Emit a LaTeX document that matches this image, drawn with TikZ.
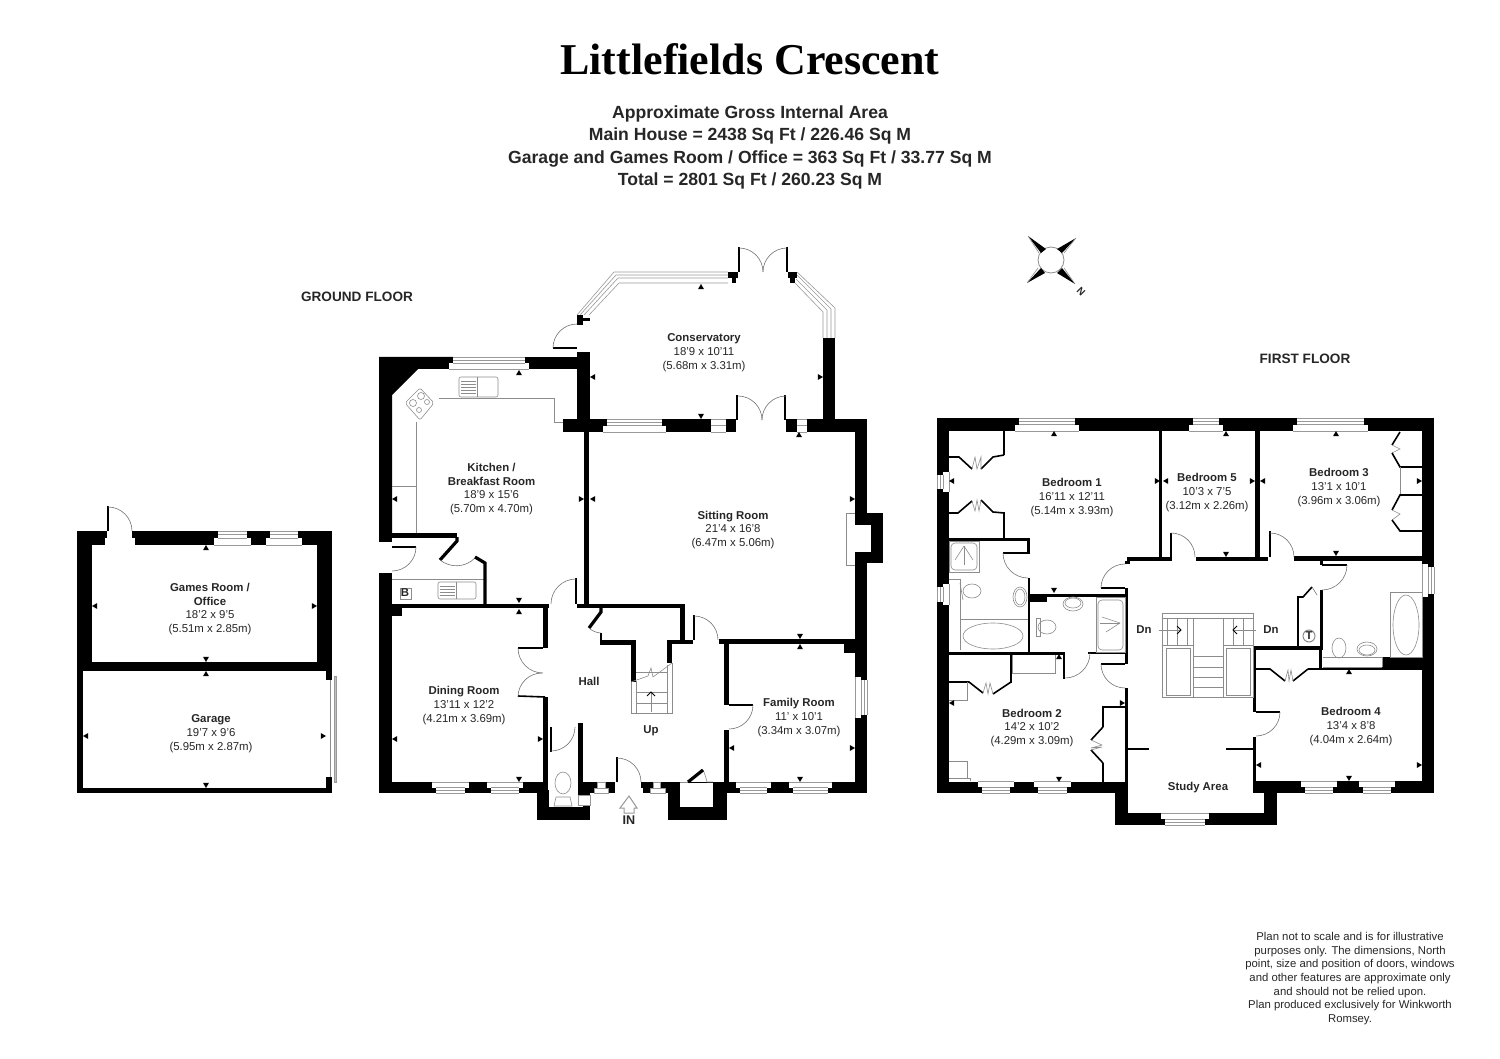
\documentclass[tikz,border=0pt]{standalone}
\usepackage{fontspec}
\setmainfont{Liberation Sans}
\newfontfamily\titlefont{Liberation Serif}
\tikzset{
    wall/.style={fill=black},
    partition/.style={draw=black,line width=1.6pt},
    leaf/.style={draw=black,line width=.8pt},
    fit/.style={draw=black!45,line width=.3pt},
    swing/.style={draw=black!55,line width=.3pt},
    glass/.style={draw=black!40,line width=.3pt},
    room/.style={font=\fontsize{5.7}{6.9}\selectfont,align=center,text=black!85,yshift=-.75pt},
    tag/.style={font=\fontsize{5.7}{6.9}\selectfont\bfseries,text=black!85},
    heading/.style={font=\fontsize{6.8}{7.5}\selectfont\bfseries,text=black!85}
}
\begin{document}
\begin{tikzpicture}[x=.5pt,y=-.5pt]
        \useasboundingbox (0,0) rectangle (1500,1059);
        \node[font=\fontsize{22}{24}\titlefont\bfseries] (title) at (750,59.5) {Littlefields Crescent};
        \node[font=\fontsize{8.8}{11.3}\selectfont\bfseries,align=center,text=black!85] (areas) at (750,147.5) {Approximate Gross Internal Area\\Main House = 2438 Sq Ft / 226.46 Sq M\\Garage and Games Room / Office = 363 Sq Ft / 33.77 Sq M\\Total = 2801 Sq Ft / 260.23 Sq M};
        \node[heading] (groundfloor) at (357,297) {GROUND FLOOR};
        \node[heading] (firstfloor) at (1305,359) {FIRST FLOOR};
        \node[font=\fontsize{5.67}{6.85}\selectfont,align=center,text=black!85] (disclaimer) at (1350,978.5) {Plan not to scale and is for illustrative\\purposes only. The dimensions, North\\point, size and position of doors, windows\\and other features are approximate only\\and should not be relied upon.\\Plan produced exclusively for Winkworth\\Romsey.};

        % compass
        \draw[fit,line width=.4pt] (1051,260) circle[radius=13];
        \fill[wall] (1028,236) -- (1046,249) -- (1041,253) -- cycle;
        \fill[wall] (1076,238) -- (1057,249) -- (1062,253) -- cycle;
        \fill[wall] (1027,283) -- (1041,268) -- (1045,273) -- cycle;
        \fill[wall] (1075,284) -- (1057,273) -- (1062,268) -- cycle;
        \draw[fit] (1028,236) -- (1039,253);
        \draw[fit] (1076,238) -- (1064,253);
        \draw[fit] (1027,283) -- (1038,268);
        \draw[fit] (1075,284) -- (1064,268);
        \node[tag,rotate=-45,font=\fontsize{5}{5}\selectfont\bfseries] (north) at (1081,292) {N};

        % garage and games room
        \fill[wall] (77,531) rectangle (332,545);
        \fill[wall] (77,531) rectangle (83,793);
        \fill[wall] (77,531) rectangle (92,671);
        \fill[wall] (317,531) rectangle (332,671);
        \fill[wall] (77,662) rectangle (332,671);
        \fill[wall] (326,671) rectangle (332,680);
        \fill[wall] (326,777) rectangle (332,793);
        \fill[wall] (77,788) rectangle (332,793);
        \fill[white] (107,531) rectangle (132,538);
        \fill[white] (105,538) rectangle (135,546);
        \draw[leaf] (108,506) -- (108,531);
        \draw[swing] (108,507) arc[start angle=-90,end angle=0,radius=24];
        \draw[fit] (330,680) -- (330,777);
        \draw[glass,fill=black!25] (334,676) rectangle (336,782);

        % kitchen and conservatory walls
        \fill[wall] (379,357) -- (453,357) -- (453,363) -- (449,363) -- (449,369) -- (418,369) -- (392,395) -- (392,537) -- (379,537) -- cycle;
        \fill[wall] (449,357) rectangle (577,369);
        \fill[wall] (392,533) rectangle (457,538);
        \fill[wall] (379,537) rectangle (392,542);
        \fill[wall] (379,573) rectangle (392,793);
        \fill[wall] (577,352) rectangle (590,422);
        \fill[wall] (563,419) rectangle (738,432);
        \fill[wall] (584,432) rectangle (589,604);
        \fill[white] (736,418) rectangle (786,433);
        \fill[wall] (786,419) rectangle (867,432);
        \fill[wall] (823,338) rectangle (835,420);
        \fill[wall] (855,432) rectangle (867,525);
        \fill[wall] (855,552) rectangle (867,793);
        \fill[wall] (855,513) rectangle (883,525);
        \fill[wall] (871,525) rectangle (883,563);
        \fill[wall] (855,552) rectangle (883,563);
        \draw[fit] (855,513) -- (846,513) -- (846,565) -- (855,565);
        \draw[leaf] (737,395) -- (737,420);
        \draw[leaf] (785,395) -- (785,420);
        \draw[swing] (738,396) arc[start angle=-90,end angle=0,radius=24];
        \draw[swing] (786,396) arc[start angle=-90,end angle=-180,radius=24];
        \fill[wall] (577,315) rectangle (583,325);
        \fill[wall] (583,318) rectangle (590,321);
        \draw[leaf] (553,348) -- (577,348);
        \draw[swing] (577,324) arc[start angle=-90,end angle=-180,radius=24];
        \fill[wall] (728,272) rectangle (738,278);
        \fill[wall] (732,278) rectangle (736,283);
        \fill[wall] (788,272) rectangle (797,278);
        \fill[wall] (790,278) rectangle (795,283);
        \draw[leaf] (739,247) -- (739,272);
        \draw[leaf] (787,247) -- (787,272);
        \draw[swing] (739,248) arc[start angle=-90,end angle=0,radius=24];
        \draw[swing] (787,248) arc[start angle=-90,end angle=-180,radius=24];
        \draw[glass] (577,315) -- (614,272) -- (728,272);
        \draw[glass] (580,315) -- (616,275) -- (728,275);
        \draw[glass] (584,315) -- (618,278) -- (728,278);
        \draw[glass] (589,315) -- (619,283) -- (728,283);
        \draw[glass] (797,272) -- (835,308) -- (835,338);
        \draw[glass] (797,275) -- (831,309) -- (831,338);
        \draw[glass] (796,279) -- (827,310) -- (827,338);
        \draw[glass] (795,283) -- (823,312) -- (823,338);

        % kitchen fittings
        \draw[fit] (439,398) -- (554,398) -- (554,422) -- (563,422);
        \draw[fit] (416,422) -- (416,533);
        \draw[fit] (392,486) -- (416,486);
        \draw[fit,rounded corners=1pt] (405,403) -- (420,388) -- (434,403) -- (420,420) -- cycle;
        \draw[fit] (413,403) circle[radius=3.5];
        \draw[fit] (421,396) circle[radius=3.5];
        \draw[fit] (427,402) circle[radius=2.5];
        \draw[fit] (419,410) circle[radius=2.5];
        \draw[fit,rounded corners=1pt] (459,377) rectangle (498,397);
        \draw[fit] (477,377) -- (477,397);
        \foreach \y in {381,384,387,390,393} \draw[fit] (461,\y) -- (476,\y);
        \draw[fit] (392,579) -- (485,579);
        \draw[fit,line width=.5pt] (400,588) rectangle (411,599);
        \draw[fit,rounded corners=1pt] (438,582) rectangle (476,599);
        \draw[fit] (456,582) -- (456,599);
        \foreach \y in {586,589,592,595} \draw[fit] (440,\y) -- (455,\y);
        \draw[leaf] (392,547) -- (416,547);
        \draw[swing] (416,547) arc[start angle=0,end angle=90,radius=24];
        \draw[partition] (457,537) -- (457,541) -- (440,560);
        \draw[swing] (440,560) .. controls (450,568) and (465,568) .. (475,558);
        \draw[partition] (475,557) -- (485,563) -- (485,604);

        % dining room and hall walls
        \fill[wall] (392,604) rectangle (549,608);
        \fill[wall] (392,608) rectangle (402,616);
        \fill[wall] (543,608) rectangle (548,648);
        \fill[wall] (543,697) rectangle (548,794);
        \fill[wall] (379,782) rectangle (543,793);
        \draw[leaf] (518,648) -- (543,648);
        \draw[leaf] (518,696) -- (545,697);
        \draw[swing] (518,648) arc[start angle=180,end angle=90,radius=25];
        \draw[swing] (518,697) arc[start angle=180,end angle=270,radius=24];
        \fill[wall] (537,790) rectangle (549,820);
        \fill[wall] (537,807) rectangle (590,820);
        \fill[wall] (578,723) rectangle (583,795);
        \fill[wall] (583,782) rectangle (615,793);
        \fill[wall] (583,793) rectangle (590,820);
        \draw[glass,fill=white] (578,795) rectangle (590,805);
        \draw[leaf] (551,727) -- (551,752);
        \draw[swing] (551,751) arc[start angle=90,end angle=0,radius=24];
        \draw[fit] (563,783) ellipse[x radius=8,y radius=11];
        \draw[fit] (554,806) -- (572,806) -- (570,797) -- (556,797) -- cycle;
        \fill[wall] (577,604) rectangle (684,608);
        \fill[wall] (680,604) rectangle (685,644);
        \fill[wall] (672,640) rectangle (693,644);
        \fill[wall] (600,640) rectangle (636,645);
        \fill[wall] (631,640) rectangle (636,682);
        \fill[wall] (667,640) rectangle (672,663);
        \draw[leaf] (601,640) -- (601,633);
        \draw[partition] (601,608) -- (601,612) -- (589,628);
        \draw[swing] (589,628) .. controls (592,631) and (597,633) .. (601,633);
        \draw[leaf] (576,578) -- (576,604);
        \draw[swing] (576,579) arc[start angle=-90,end angle=-180,radius=25];
        \draw[leaf] (694,615) -- (694,640);
        \draw[swing] (694,616) arc[start angle=-90,end angle=0,radius=24];

        % stairs up
        \draw[fit] (631,682) -- (631,713) -- (672,713) -- (672,663);
        \draw[fit] (631,682) -- (648,676) -- (651,668) -- (653,677) -- (672,663);
        \draw[fit] (636,681) -- (636,713);
        \draw[fit] (667,665) -- (667,713);
        \foreach \y in {672,692,703} \draw[fit] (636,\y) -- (667,\y);
        \node[inner sep=0pt] (upfoot) at (651,713) {};
        \coordinate (uptip) at (651,692);
        \draw[fit,line width=.4pt] (upfoot) -- (uptip);
        \draw[leaf,line width=.4pt] (647,696) -- (uptip) -- (655,696);

        % front of house
        \draw[leaf] (617,757) -- (617,782);
        \draw[swing] (617,758) arc[start angle=-90,end angle=0,radius=24];
        \fill[wall] (641,782) rectangle (653,788);
        \fill[wall] (643,788) rectangle (650,793);
        \fill[wall] (660,782) rectangle (727,793);
        \fill[wall] (668,793) rectangle (727,820);
        \fill[white] (680,783) rectangle (713,807);
        \draw[fit] (680,782) -- (688,782);
        \draw[fit] (703,770) .. controls (705,774) and (706,778) .. (707,782) -- (713,782);
        \draw[partition] (688,782) -- (703,770);
        \fill[wall] (713,782) rectangle (740,793);
        \draw[glass,fill=white] (650,788) rectangle (665,793);
        \draw[glass,fill=white] (653,782) rectangle (660,788);
        \draw[glass,fill=white] (594,788) rectangle (608,793);
        \draw[glass,fill=white] (597,782) rectangle (605,788);

        % family room walls
        \fill[wall] (719,639) rectangle (855,644);
        \fill[wall] (724,644) rectangle (729,705);
        \fill[wall] (724,730) rectangle (729,782);
        \fill[wall] (844,644) rectangle (855,653);
        \fill[wall] (729,782) rectangle (867,793);
        \draw[leaf] (729,705) -- (753,705);
        \draw[swing] (753,705) arc[start angle=0,end angle=90,radius=24];

        % first floor shell
        \fill[wall] (937,418) rectangle (1434,431);
        \fill[wall] (937,418) rectangle (949,793);
        \fill[wall] (1422,418) rectangle (1434,793);
        \fill[wall] (937,782) rectangle (1128,793);
        \fill[wall] (1253,781) rectangle (1434,793);
        \fill[wall] (1115,793) rectangle (1128,825);
        \fill[wall] (1264,793) rectangle (1277,825);
        \fill[wall] (1115,813) rectangle (1277,825);

        % first floor partitions
        \fill[wall] (1159,431) rectangle (1162,557);
        \fill[wall] (1127,557) rectangle (1172,561);
        \fill[wall] (1125,561) rectangle (1130,564);
        \fill[wall] (1196,557) rectangle (1268,561);
        \fill[wall] (1255,431) rectangle (1260,557);
        \fill[wall] (1294,556) rectangle (1422,561);
        \fill[wall] (1320,561) rectangle (1323,565);
        \fill[wall] (1320,590) rectangle (1323,648);
        \fill[wall] (1297,597) rectangle (1299,647);
        \fill[wall] (1253,646) rectangle (1323,650);
        \fill[wall] (1253,650) rectangle (1256,712);
        \fill[wall] (1253,737) rectangle (1256,782);
        \fill[wall] (1319,648) rectangle (1322,669);
        \fill[wall] (1308,668) rectangle (1422,670);
        \fill[wall] (1382,657) rectangle (1422,668);
        \fill[wall] (1226,748) rectangle (1253,750);
        \fill[wall] (1128,748) rectangle (1149,750);
        \fill[wall] (1125,688) rectangle (1128,782);
        \fill[wall] (1125,588) rectangle (1128,664);
        \fill[wall] (1030,594) rectangle (1128,597);
        \fill[wall] (1030,594) rectangle (1047,602);
        \fill[wall] (1028,578) rectangle (1030,653);
        \fill[wall] (949,652) rectangle (1065,655);
        \fill[wall] (1063,652) rectangle (1065,679);
        \fill[wall] (1088,652) rectangle (1125,654);
        \fill[wall] (1010,653) rectangle (1012,683);
        \fill[wall] (949,538) rectangle (1030,541);
        \fill[wall] (1027,541) rectangle (1030,553);
        \fill[wall] (1003,552) rectangle (1030,554);
        \fill[wall] (1003,431) rectangle (1005,455);
        \fill[wall] (1003,512) rectangle (1005,538);
        \fill[wall] (1102,706) rectangle (1128,708);
        \fill[wall] (1102,708) rectangle (1104,727);
        \fill[wall] (1102,763) rectangle (1104,782);
        \draw[leaf] (1171,533) -- (1171,557);
        \draw[swing] (1171,533) arc[start angle=-90,end angle=0,radius=24];
        \draw[leaf] (1270,531) -- (1270,557);
        \draw[swing] (1270,533) arc[start angle=-90,end angle=0,radius=24];
        \draw[leaf] (1322,565) -- (1347,565);
        \draw[swing] (1347,565) arc[start angle=0,end angle=90,radius=25];
        \draw[leaf] (1256,712) -- (1280,712);
        \draw[swing] (1280,712) arc[start angle=0,end angle=90,radius=24];
        \draw[leaf] (1101,588) -- (1125,588);
        \draw[swing] (1125,564) arc[start angle=-90,end angle=-180,radius=24];
        \draw[leaf] (1101,664) -- (1125,664);
        \draw[swing] (1101,664) arc[start angle=180,end angle=90,radius=24];
        \draw[leaf] (1003,553) -- (1028,553);
        \draw[swing] (1003,553) arc[start angle=180,end angle=90,radius=25];
        \draw[swing] (1065,678) arc[start angle=90,end angle=0,radius=25];

        % wardrobes
        \draw[leaf] (949,457) -- (959,457) -- (972,469);
        \draw[leaf] (1004,455) -- (993,457) -- (981,469);
        \draw[fit] (972,469) -- (975,457) -- (977,469) -- (981,457) -- (981,469);
        \draw[leaf] (949,513) -- (958,513) -- (972,501);
        \draw[leaf] (1004,513) -- (993,512) -- (981,500);
        \draw[fit] (972,501) -- (975,511) -- (977,500) -- (979,511) -- (981,500);
        \draw[leaf] (949,682) -- (969,682) -- (983,693);
        \draw[leaf] (1011,682) -- (993,694);
        \draw[fit] (983,693) -- (986,683) -- (988,694) -- (990,683) -- (993,694);
        \draw[fit] (949,700) -- (967,700) -- (967,682);
        \draw[fit] (1012,655) -- (1012,673) -- (1055,673) -- (1055,655);
        \draw[fit] (949,761) -- (967,761) -- (967,778) -- (970,778) -- (970,781);
        \draw[fit] (949,778) -- (967,778);
        \draw[leaf] (1103,727) -- (1091,740);
        \draw[leaf] (1103,763) -- (1091,750);
        \draw[fit] (1091,740) -- (1102,745) -- (1091,748) -- (1102,747) -- (1091,750);
        \draw[leaf] (1400,432) -- (1392,445);
        \draw[fit] (1392,445) -- (1400,449) -- (1392,453);
        \draw[leaf] (1392,453) -- (1400,467) -- (1422,467);
        \draw[fit] (1400,467) -- (1400,495);
        \draw[leaf] (1422,495) -- (1400,495) -- (1392,510);
        \draw[fit] (1392,510) -- (1400,514) -- (1392,520);
        \draw[leaf] (1392,520) -- (1400,531) -- (1422,531);
        \draw[leaf] (1256,669) -- (1270,669) -- (1285,681);
        \draw[leaf] (1308,669) -- (1293,681);
        \draw[fit] (1285,681) -- (1288,670) -- (1289,681) -- (1291,670) -- (1293,681);
        \draw[leaf] (1297,597) -- (1303,597) -- (1312,587);
        \draw[swing] (1312,587) -- (1317,595);

        % bathrooms
        \draw[fit] (949,541) rectangle (979,572);
        \draw[fit,rounded corners=2pt] (951,543) rectangle (977,570);
        \draw[fit] (964,546) -- (964,565);
        \draw[fit] (964,546) -- (955,560);
        \draw[fit] (964,546) -- (973,560);
        \draw[fit] (949,579) -- (960,579) -- (960,650);
        \draw[fit] (960,619) -- (1028,619);
        \draw[fit] (993,636) ellipse[x radius=30,y radius=13];
        \draw[fit] (972,591) ellipse[x radius=9,y radius=7];
        \draw[fit] (960,583) -- (963,600);
        \draw[fit] (1020,597) ellipse[x radius=7,y radius=10];
        \draw[fit] (1020,597) ellipse[x radius=5,y radius=8];
        \draw[fit] (1047,627) ellipse[x radius=9,y radius=7];
        \draw[fit] (1036,618) rectangle (1040,636);
        \draw[fit] (1073,604) ellipse[x radius=10,y radius=7];
        \draw[fit] (1073,603) ellipse[x radius=8,y radius=5];
        \draw[fit] (1096,597) rectangle (1125,652);
        \draw[fit,rounded corners=2pt] (1098,600) rectangle (1123,650);
        \draw[fit] (1120,623) -- (1102,617);
        \draw[fit] (1120,623) -- (1100,623);
        \draw[fit] (1120,623) -- (1106,632);
        \draw[fit] (1390,592) rectangle (1422,657);
        \draw[fit] (1406,625) ellipse[x radius=13,y radius=30];
        \draw[fit] (1339,648) ellipse[x radius=7,y radius=10];
        \draw[fit] (1367,649) ellipse[x radius=10,y radius=7];
        \draw[fit] (1367,650) ellipse[x radius=8,y radius=5];
        \draw[fit] (1323,657) -- (1382,657) -- (1382,667);
        \draw[fit] (1323,667) -- (1382,667);
        \draw[fit,line width=.5pt] (1309,636) circle[radius=6];

        % stairs down
        \draw[fit] (1162,613) rectangle (1253,697);
        \draw[fit] (1162,645) -- (1193,645);
        \draw[fit] (1223,645) -- (1253,645);
        \draw[fit] (1193,618) -- (1193,697);
        \draw[fit] (1223,618) -- (1223,697);
        \draw[fit] (1162,618) -- (1253,618);
        \draw[fit] (1166,648) rectangle (1190,695);
        \draw[fit] (1226,648) rectangle (1250,695);
        \foreach \x in {1167,1177,1187,1233,1243} \draw[fit] (\x,618) -- (\x,645);
        \foreach \y in {656,667,677,687} \draw[fit] (1193,\y) -- (1223,\y);
        \node[tag] (dnleft) at (1144,630) {Dn};
        \node[tag] (dnright) at (1271,630) {Dn};
        \coordinate (dnlefttip) at (1181,630);
        \coordinate (dnrighttip) at (1233,630);
        \draw[fit] (dnleft) -- (dnlefttip);
        \draw[fit] (dnright) -- (dnrighttip);
        \draw[leaf,line width=.4pt] (1177,626) -- (dnlefttip) -- (1177,634);
        \draw[leaf,line width=.4pt] (1237,626) -- (dnrighttip) -- (1237,634);

        % windows
        \foreach \xa/\xb/\ya/\yb in {453/525/357/369,218/247/531/545,270/298/531/545,436/465/793/782,491/519/793/782,740/767/793/782,793/828/793/782,1019/1075/418/431,1193/1219/418/431,1297/1364/418/431,982/1010/793/781,1038/1067/793/781,1305/1333/793/781,1363/1391/793/781,1165/1205/825/813,607/662/419/432} {
            \fill[white] (\xa,\ya) rectangle (\xb,{(\ya+\yb)/2});
            \fill[white] ({\xa-4},{(\ya+\yb)/2}) rectangle ({\xb+4},\yb);
            \draw[glass] (\xa,\ya) -- (\xb,\ya);
            \draw[glass] (\xa,{(3*\ya+\yb)/4}) -- (\xb,{(3*\ya+\yb)/4});
            \draw[glass] (\xa,{(\ya+\yb)/2}) -- (\xb,{(\ya+\yb)/2});
            \draw[glass] ({\xa-4},\yb) -- ({\xb+4},\yb);
        }
        \foreach \xa/\xb/\ya/\yb in {711/726/419/432,797/807/432/419} {
            \fill[white] (\xa,\ya) rectangle (\xb,\yb);
            \draw[glass] (\xa,\ya) -- (\xb,\ya);
            \draw[glass] (\xa,{(\ya+\yb)/2}) -- (\xb,{(\ya+\yb)/2});
            \draw[glass] (\xa,\yb) -- (\xb,\yb);
        }
        \foreach \ya/\yb/\xa/\xb in {680/715/867/855,475/489/937/949,587/602/937/949,567/594/1434/1422} {
            \fill[white] (\xa,\ya) rectangle ({(\xa+\xb)/2},\yb);
            \fill[white] ({(\xa+\xb)/2},{\ya-3}) rectangle (\xb,{\yb+3});
            \draw[glass] (\xa,\ya) -- (\xa,\yb);
            \draw[glass] ({(3*\xa+\xb)/4},\ya) -- ({(3*\xa+\xb)/4},\yb);
            \draw[glass] ({(\xa+\xb)/2},\ya) -- ({(\xa+\xb)/2},\yb);
            \draw[glass] (\xb,{\ya-3}) -- (\xb,{\yb+3});
        }

        % dimension marks
        \foreach \x/\y/\a in {519/370/270,584/499/0,392/499/180,590/377/180,590/499/180,519/603/90,519/609/270,392/739/180,543/739/0,519/782/90,701/284/270,823/377/0,701/419/90,799/432/270,855/499/0,800/639/90,800/644/270,729/748/180,855/748/0,800/782/90,206/545/270,92/606/180,317/606/0,206/662/90,206/671/270,83/736/180,326/736/0,206/788/90,1054/431/270,949/481/180,1160/481/0,1163/481/180,1054/593/90,1226/431/270,1255/481/0,1260/481/180,1226/557/90,1336/431/270,1422/481/0,1336/556/90,1059/654/270,949/703/180,1125/703/0,1059/782/90,1349/669/270,1256/765/180,1422/765/0,1349/781/90} {
            \fill[wall] (\x,\y) -- +({\a+150}:6) -- +({\a+210}:6) -- cycle;
        }

        % room names
        \node[room] (conservatory) at (704,351) {\textbf{Conservatory}\\18'9 x 10'11\\(5.68m x 3.31m)};
        \node[room] (kitchen) at (491.5,487.5) {\textbf{Kitchen /}\\\textbf{Breakfast Room}\\18'9 x 15'6\\(5.70m x 4.70m)};
        \node[room] (sitting) at (733,528.5) {\textbf{Sitting Room}\\21'4 x 16'8\\(6.47m x 5.06m)};
        \node[room] (games) at (210,607.5) {\textbf{Games Room /}\\\textbf{Office}\\18'2 x 9'5\\(5.51m x 2.85m)};
        \node[room] (garage) at (211,732) {\textbf{Garage}\\19'7 x 9'6\\(5.95m x 2.87m)};
        \node[room] (dining) at (464,704) {\textbf{Dining Room}\\13'11 x 12'2\\(4.21m x 3.69m)};
        \node[room] (family) at (799,716) {\textbf{Family Room}\\11' x 10'1\\(3.34m x 3.07m)};
        \node[room] (bedone) at (1072,496) {\textbf{Bedroom 1}\\16'11 x 12'11\\(5.14m x 3.93m)};
        \node[room] (bedfive) at (1207,491) {\textbf{Bedroom 5}\\10'3 x 7'5\\(3.12m x 2.26m)};
        \node[room] (bedthree) at (1339,486) {\textbf{Bedroom 3}\\13'1 x 10'1\\(3.96m x 3.06m)};
        \node[room] (bedtwo) at (1032,726.5) {\textbf{Bedroom 2}\\14'2 x 10'2\\(4.29m x 3.09m)};
        \node[room] (bedfour) at (1351,725) {\textbf{Bedroom 4}\\13'4 x 8'8\\(4.04m x 2.64m)};
        \node[tag] (hall) at (589,681) {Hall};
        \node[tag] (up) at (651,731) {Up};
        \node[tag] (study) at (1198,788) {Study Area};
        \node[tag] (boiler) at (405,593) {B};
        \node[tag] (tank) at (1309,636) {T};

        % entrance
        \draw[glass,line width=.5pt,fill=white] (629,796) -- (637,808) -- (634,808) -- (634,813) -- (624,813) -- (624,808) -- (620,808) -- cycle;
        \node[tag,font=\fontsize{6.3}{7}\selectfont\bfseries] (entrance) at (629,820) {IN};
    \end{tikzpicture}
\end{document}
